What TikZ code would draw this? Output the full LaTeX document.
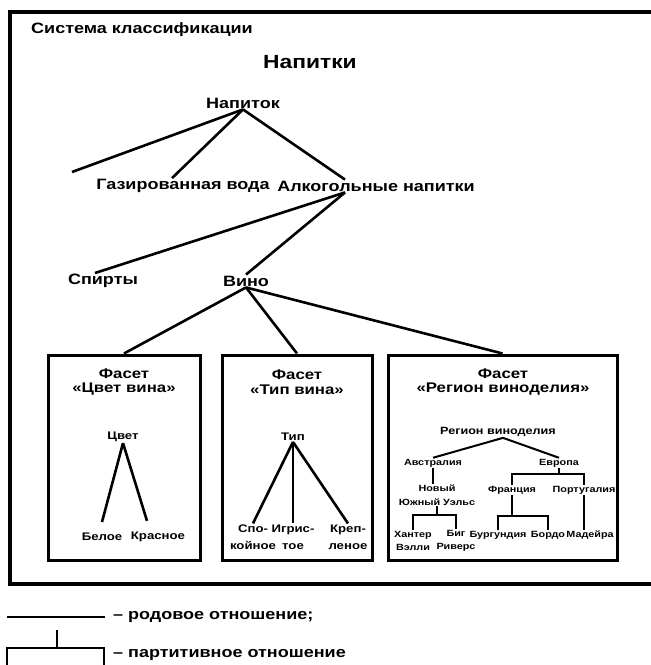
\documentclass[tikz,border=0pt]{standalone}
\usepackage{fontspec}
\setmainfont{Liberation Sans}[FakeStretch=1.2]

\tikzset{
  lbl/.style={inner sep=1pt, align=center, font=\bfseries\fontsize{15}{17}\selectfont},
  head/.style={inner sep=1pt, align=center, font=\bfseries\fontsize{14}{14.5}\selectfont},
  small/.style={inner sep=1pt, align=center, font=\bfseries\fontsize{11}{17}\selectfont},
  tiny/.style={inner sep=1pt, align=center, font=\bfseries\fontsize{9}{13.5}\selectfont},
  facet/.style={draw, line width=3pt, minimum height=205pt, inner sep=0pt},
  rod/.style={line width=2.6pt},
  rodthin/.style={line width=2pt},
  part/.style={line width=1.8pt},
}

\begin{document}
\begin{tikzpicture}[x=1pt, y=-1pt]
        \useasboundingbox (0,0) rectangle (651,665);
        \draw[line width=3.5pt] (660,12) -- (10,12) -- (10,584) -- (660,584);

        \node[lbl, anchor=west] (sys) at (30,30) {Система классификации};
        \node[lbl, font=\bfseries\fontsize{19}{21}\selectfont] (title) at (310,62) {Напитки};

        \node[lbl] (napitok) at (243,103) {Напиток};
        \node[lbl] (gaz) at (183,186) {Газированная вода};
        \node[lbl] (alko) at (376,186) {Алкогольные напитки};
        \coordinate (other) at (72,172);
        \draw[rod] (napitok.south) -- (other);
        \draw[rod] (napitok.south) -- ([xshift=-11pt]gaz.north);
        \draw[rod] (napitok.south) -- ([xshift=-31pt]alko.north);

        \node[lbl] (spirt) at (103,281) {Спирты};
        \node[lbl] (vino) at (246,281) {Вино};
        \draw[rod] ([xshift=-31pt]alko.south) -- ([xshift=-8pt]spirt.north);
        \draw[rod] ([xshift=-31pt]alko.south) -- (vino.north);

        \node[facet, minimum width=152pt] (fcolor) at (124,457.5) {};
        \node[facet, minimum width=150pt] (ftype) at (297,457.5) {};
        \node[facet, minimum width=229pt] (fregion) at (502.5,457.5) {};
        \foreach \f in {fcolor, ftype, fregion}
            \draw[rod] (vino.south) -- (\f.north);

        % facet 1
        \node[head] (hcolor) at (124,382) {Фасет\\«Цвет вина»};
        \node[small] (color) at (123,437) {Цвет};
        \node[small] (white) at (102,537) {Белое};
        \node[small] (red) at (158,537) {Красное};
        \draw[rod] (color.south) -- ([yshift=10pt]white.north);
        \draw[rod] (color.south) -- ([xshift=-11pt,yshift=10pt]red.north);

        % facet 2
        \node[head] (htype) at (297,382) {Фасет\\«Тип вина»};
        \node[small] (type) at (293,437) {Тип};
        \node[small] (calm) at (253,537) {Спо-\\койное};
        \node[small] (spark) at (293,537) {Игрис-\\тое};
        \node[small] (fort) at (348,537) {Креп-\\леное};
        \foreach \t in {calm, spark, fort}
            \draw[rod] (type.south) -- (\t.north);

        % facet 3
        \node[head] (hregion) at (503,382) {Фасет\\«Регион виноделия»};
        \node[tiny, font=\bfseries\fontsize{10.5}{12}\selectfont] (region) at (498,432) {Регион виноделия};
        \node[tiny] (aus) at (433,463) {Австралия};
        \node[tiny] (eur) at (559,463) {Европа};
        \draw[rodthin] ([xshift=5pt]region.south) -- (aus.north);
        \draw[rodthin] ([xshift=5pt]region.south) -- (eur.north);

        \node[tiny] (nsw) at (437,495) {Новый\\Южный Уэльс};
        \node[tiny] (fra) at (512,490) {Франция};
        \node[tiny] (por) at (584,490) {Португалия};
        \draw[part] (aus.south) -- (aus.south |- nsw.north);
        \draw[part] (eur.south) -- ([yshift=-6pt]eur.south);
        \draw[part] (fra.north) |- ([yshift=-6pt]eur.south) -| (por.north);

        \node[tiny] (hunter) at (413,541) {Хантер\\Вэлли};
        \node[tiny] (big) at (456,541) {Биг\\Риверс};
        \node[tiny] (burg) at (498,535) {Бургундия};
        \node[tiny] (bord) at (548,535) {Бордо};
        \node[tiny] (mad) at (590,535) {Мадейра};
        \draw[part] (nsw.south) -- ([yshift=-9pt]nsw.south);
        \draw[part] (hunter.north) |- ([yshift=-9pt]nsw.south) -| (big.north);
        \draw[part] (fra.south) -- ([yshift=-21pt]fra.south);
        \draw[part] (burg.north) |- ([yshift=-21pt]fra.south) -| (bord.north);
        \draw[part] (por.south) -- (por.south |- mad.north);

        % legend
        \draw[rodthin] (7,617) -- (105,617);
        \node[lbl, anchor=west] (lrod) at (112,617) {– родовое отношение;};
        \draw[rodthin] (57,630) -- (57,648);
        \draw[rodthin] (7,670) -- (7,648) -- (104,648) -- (104,670);
        \node[lbl, anchor=west] (lpart) at (112,655) {– партитивное отношение};
    \end{tikzpicture}
\end{document}
